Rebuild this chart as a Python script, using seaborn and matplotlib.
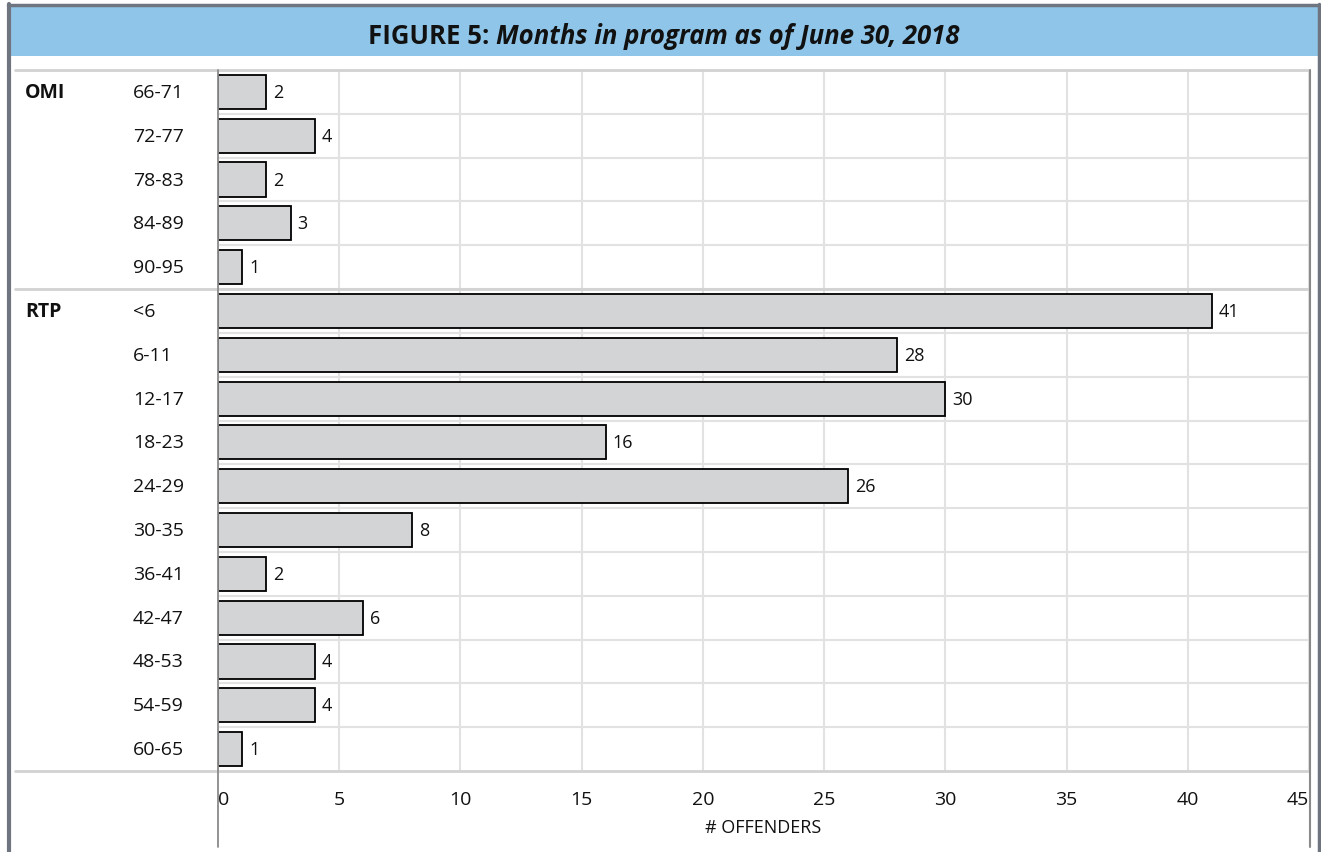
import matplotlib
matplotlib.use("Agg")
import matplotlib.pyplot as plt
import seaborn as sns
import pandas as pd
from matplotlib.lines import Line2D
from matplotlib.patches import Rectangle
from matplotlib.transforms import blended_transform_factory

# ---- data ----
groups = ["OMI"] * 5 + ["RTP"] * 11
months = ["66-71", "72-77", "78-83", "84-89", "90-95",
          "<6", "6-11", "12-17", "18-23", "24-29", "30-35",
          "36-41", "42-47", "48-53", "54-59", "60-65"]
offenders = [2, 4, 2, 3, 1, 41, 28, 30, 16, 26, 8, 2, 6, 4, 4, 1]
xticks = [0, 5, 10, 15, 20, 25, 30, 35, 40, 45]
title_a = "FIGURE 5: "
title_b = "Months in program as of June 30, 2018"
xlabel = "# OFFENDERS"

sns.set_theme(style="white")
plt.rcParams["font.family"] = ["Open Sans", "DejaVu Sans"]

W, H = 1321, 853
fig = plt.figure(figsize=(W / 100, H / 100), dpi=100)

def fx(px):
    return px / W

def fy(py):
    return 1 - py / H

# outer frame and title band
fig.add_artist(Rectangle((fx(11), fy(57)), fx(1318) - fx(11), fy(8) - fy(57),
                         transform=fig.transFigure, facecolor="#8FC5E8",
                         edgecolor="none", zorder=0))
frame_c = "#6E7580"
fig.add_artist(Line2D([fx(9), fx(9)], [fy(5), 0], transform=fig.transFigure,
                      color=frame_c, lw=3))
fig.add_artist(Line2D([fx(8), fx(1319)], [fy(6), fy(6)], transform=fig.transFigure,
                      color=frame_c, lw=2.5))
fig.add_artist(Line2D([fx(1319), fx(1319)], [fy(5), 0], transform=fig.transFigure,
                      color=frame_c, lw=2.5))

ax_left, ax_right, ax_top, ax_bot = 218, 1309, 71, 772
ax = fig.add_axes([fx(ax_left), fy(ax_bot), fx(ax_right) - fx(ax_left), fy(ax_top) - fy(ax_bot)])

df = pd.DataFrame({"group": groups, "months": months, "offenders": offenders})
sns.barplot(data=df, y="months", x="offenders", order=months, orient="h",
            color="#D3D4D6", edgecolor="black", linewidth=1.3, width=0.78,
            saturation=1, ax=ax, zorder=3)

n = len(months)
ax.set_xlim(0, 45)
ax.set_ylim(n - 0.5, -0.5)
ax.set_xticks(xticks)
ax.set_xticklabels([str(t) for t in xticks], fontsize=14, color="#111111")
labs = ax.get_xticklabels()
labs[0].set_ha("left")
labs[-1].set_ha("right")
ax.tick_params(axis="x", length=7, width=1.2, color="#D6D6D6", pad=7)
ax.set_xlabel(xlabel, fontsize=13, color="#111111", labelpad=7)
ax.set_ylabel("")
ax.set_yticks([])
ax.set_yticks([i + 0.5 for i in range(n - 1)], minor=True)
ax.tick_params(axis="y", which="minor", length=0)
ax.grid(axis="x", color="#E2E2E2", lw=1.5, zorder=0)
ax.grid(axis="y", which="minor", color="#E2E2E2", lw=1.5, zorder=0)
for s in ["top", "bottom", "left", "right"]:
    ax.spines[s].set_visible(False)

# value labels
for i, v in enumerate(offenders):
    ax.annotate(str(v), (v, i), xytext=(5, 0), textcoords="offset points",
                va="center", ha="left", fontsize=13, color="#111111", zorder=4)

# category and group labels
btr = blended_transform_factory(fig.transFigure, ax.transData)
for i, m in enumerate(months):
    ax.text(fx(133), i, m, transform=btr, va="center", ha="left",
            fontsize=14, color="#111111")
seen = set()
for i, g in enumerate(groups):
    if g not in seen:
        seen.add(g)
        ax.text(fx(25), i, g, transform=btr, va="center", ha="left",
                fontsize=14, fontweight="bold", color="#111111")

# separator lines extending left
sep_rows = [-0.5, 4.5, n - 0.5]
for r in sep_rows:
    fig.add_artist(Line2D([fx(15), fx(ax_right)], [r, r], color="#D2D2D2", lw=2,
                          transform=btr))

# vertical axis lines extending below
fig.add_artist(Line2D([fx(ax_left), fx(ax_left)], [fy(ax_top), fy(848)],
                      transform=fig.transFigure, color="#8A8A8A", lw=1.3, zorder=5))
fig.add_artist(Line2D([fx(ax_right + 1), fx(ax_right + 1)], [fy(ax_top), fy(848)],
                      transform=fig.transFigure, color="#8A8A8A", lw=1.5, zorder=5))

# title in two parts, centered
fig.canvas.draw()
r = fig.canvas.get_renderer()
ta = fig.text(0, fy(36), title_a, fontsize=18.5, fontweight="bold", va="center",
              ha="left", color="#111111")
tb = fig.text(0, fy(36), title_b, fontsize=18.5, fontweight="bold", style="italic",
              va="center", ha="left", color="#111111")
wa = ta.get_window_extent(r).width
wb = tb.get_window_extent(r).width
cx = 664
start = cx - (wa + wb) / 2
ta.set_x(fx(start))
tb.set_x(fx(start + wa))

fig.savefig("out.png", dpi=100)
